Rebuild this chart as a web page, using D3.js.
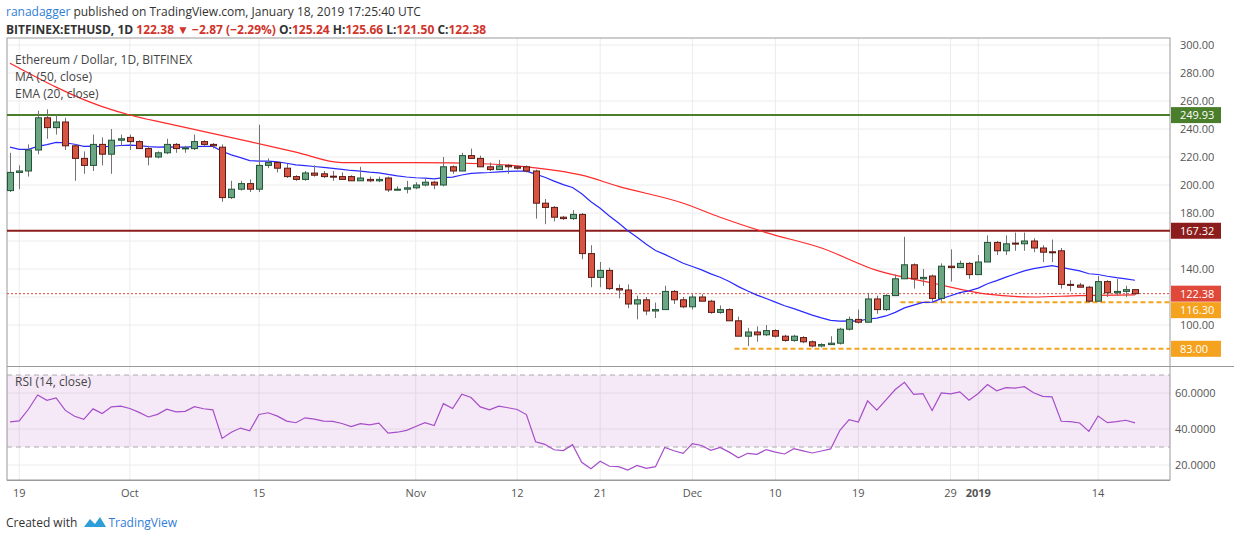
<!DOCTYPE html>
<html lang="en">
<head>
<meta charset="UTF-8">
<title>ETHUSD 1D</title>
<script src="https://d3js.org/d3.v7.min.js"></script>
<style>
  body { margin: 0; background: #fff; font-family: "Open Sans", Arial, sans-serif; }
  svg text { font-family: "Open Sans", Arial, sans-serif; }
</style>
</head>
<body>
<svg width="1234" height="541"></svg>
<script>
// daily candles, Sep 18 2018 .. Jan 18 2019
const opens  = [196,209,210,225,248,241,245,228,219,214,229,222,232,234,231,226,220,223,229,226,226,231,229,227,191,197,201,197,214,216,212,206,204,208.5,208,206.3,206,206,203,204,203,205,196.5,197,198,200,202,200,213,210,221,219,213,211,214,213,213,210,187,184,177,176,179,151,134,139,126,125,115,118,110,111,124,118,113,120,117,109,111,103,92,95,93,96,92,89,91,88,85,86,87,97,104,102,118.6,111,121,133,143,133,135,119,142,141,144,136,145,159,153,158.5,158,160,155,152.3,153,129,128.5,127,117,131,123,124,125.24];
const highs  = [223,214,229,253,254,250,248,229,224,236,234,240,236,236,232,228,224,233,230,228,236,232,230,229,203,203,204,243,219,217,215,207,210,214,210,210,209,207,213,206,206,206,199,203,202,205,203,220,214,223,226,221,216,218,215,214,214,211,190,185,178,182,180,157,145,141,129,129,121,120,116,128,125,120,122,122,118,114,112,106,98,99,100,97,93,93,92,89,87,92,98,106,111,123,121,122,136,163,144,140,136,144,154,146,145,150,164,160,164,166,166,162,157,161,155,132,130,128,135,132,133,128,125.66];
const lows   = [195,197,206,222,233,236,225,203,208,210,214,208,228,225,226,214,219,222,223,223,225,228,226,188,190,196,195,195,212,209,205,203,203,206,205,203,204,203,203,202,202,195,196,194,197,199,197,199,208,210,219,213,210,211,208,211,209,176,172,174,175,175,147,127,127,125,119,112,104,107,105,111,115,112,111,117,108,108,103,92,85,88,92,91,88,88,87,84,84,86,86,96,101,102,108,110,121,133,126,128,117,117,131,141,133,136,145,150,150,153,153,152,145,145,126,124,127,116,117,120,121,120,121.5];
const closes = [209,210,225,248,241,245,228,219,214,229,222,232,233,231,226,220,223,229,226,226.5,231,229,228,191,197,201,197,214,216,212,206,204,208.6,207,206,206,204,203,205,203,204,196.5,197,198,200,202,200,213,210,221,219,213,211,213.6,213,212,210,187,184,177,176,179,151,134,139,126,125,115,118,110,111,124,118,113,120,117,109,111,103,92,95,93,96,92,89,92,88,85,86,87,97,104,102,118.6,111,121,133,143,133,134,119,142,141,144,136,145,159,153,158,158,160,155,152,152,129,128.5,127,117,131,123,124,125.24,122.38];

// MA(50): [candle index, value]
const ma50 = [[0,287],[10,256],[13,250],[17,244],[26,231],[31,223.5],[36,216],[44,216],[52,215],[56,213],[62,207],[66,199],[73,187],[77,177],[82,166],[88,155],[94,139],[100,130],[106,122],[111,120],[116,121],[122,121.5]];
const emaSeed = 229;
const rsiSeed = { gain: 3.4, loss: 5.6 };

const priceTicks = [100,140,180,200,220,240,260,280,300];
const rsiTicks = [20,40,60];
const timeTicks = [
  [new Date(Date.UTC(2018,8,19)), "19"], [new Date(Date.UTC(2018,9,1)), "Oct"],
  [new Date(Date.UTC(2018,9,15)), "15"], [new Date(Date.UTC(2018,10,1)), "Nov"],
  [new Date(Date.UTC(2018,10,12)), "12"], [new Date(Date.UTC(2018,10,21)), "21"],
  [new Date(Date.UTC(2018,11,1)), "Dec"], [new Date(Date.UTC(2018,11,10)), "10"],
  [new Date(Date.UTC(2018,11,19)), "19"], [new Date(Date.UTC(2018,11,29)), "29"],
  [new Date(Date.UTC(2019,0,1)), "2019"], [new Date(Date.UTC(2019,0,14)), "14"]
];
const gridTicks = [100,120,140,160,180,200,220,240,260,280,300];
const levels = [
  { v: 249.93, color: "#4b7e2b", label: "249.93", kind: "solid", shift: 0 },
  { v: 167.32, color: "#8c1d1d", label: "167.32", kind: "solid", shift: 0 },
  { v: 122.38, color: "#e0483a", label: "122.38", kind: "dot", shift: 0 },
  { v: 116.30, color: "#f5a21e", label: "116.30", kind: "dash", from: 97, shift: 8 },
  { v: 83.00,  color: "#f5a21e", label: "83.00",  kind: "dash", from: 79, shift: 0 }
];

const day0 = Date.UTC(2018,8,18);
const dates = closes.map((c,i) => new Date(day0 + i*86400000));

const svg = d3.select("svg");
const left = 7, right = 1170, pTop = 38, pBot = 366, rTop = 367, rBot = 480;

const x = d3.scaleUtc().domain([dates[0], dates[dates.length-1]]).range([10, 1135]);
const y = d3.scaleLinear().domain([100,300]).range([325,45]);
const yr = d3.scaleLinear().domain([20,60]).range([465,393]);

// grid
const grid = svg.append("g").attr("stroke", "#ececec").attr("stroke-width", 1);
timeTicks.forEach(t => {
  grid.append("line").attr("x1", x(t[0])).attr("x2", x(t[0])).attr("y1", pTop).attr("y2", rBot);
});
gridTicks.forEach(p => {
  grid.append("line").attr("x1", left).attr("x2", right).attr("y1", y(p)).attr("y2", y(p));
});
rsiTicks.forEach(p => {
  grid.append("line").attr("x1", left).attr("x2", right).attr("y1", yr(p)).attr("y2", yr(p));
});

// frames
svg.append("rect").attr("x", left).attr("y", pTop).attr("width", right-left).attr("height", rBot-pTop)
  .attr("fill", "none").attr("stroke", "#9a9a9a");
svg.append("line").attr("x1", left).attr("x2", 1234).attr("y1", pBot+0.5).attr("y2", pBot+0.5).attr("stroke", "#9a9a9a");
svg.append("line").attr("x1", left).attr("x2", right).attr("y1", rBot+0.5).attr("y2", rBot+0.5).attr("stroke", "#9a9a9a");

// RSI band
svg.append("rect").attr("x", left).attr("y", yr(70)).attr("width", right-left).attr("height", yr(30)-yr(70))
  .attr("fill", "#9c27b0").attr("fill-opacity", 0.1);
[70,30].forEach(v => svg.append("line").attr("x1", left).attr("x2", right).attr("y1", yr(v)).attr("y2", yr(v))
  .attr("stroke", "#aaa").attr("stroke-dasharray", "5,4"));

// levels
levels.forEach(l => {
  const x1 = l.from !== undefined ? x(dates[l.from]) - 4 : left;
  const ln = svg.append("line").attr("x1", x1).attr("x2", right).attr("y1", y(l.v)).attr("y2", y(l.v))
    .attr("stroke", l.color);
  if (l.kind === "solid") ln.attr("stroke-width", 2);
  if (l.kind === "dot") ln.attr("stroke-width", 1).attr("stroke-dasharray", "2,2");
  if (l.kind === "dash") ln.attr("stroke-width", 2).attr("stroke-dasharray", "5,3");
});

// indicators
const ema = [];
closes.forEach((c,i) => { const prev = i ? ema[i-1] : emaSeed; ema.push(prev + (c-prev)*2/21); });
const rsi = [];
let ag = rsiSeed.gain, al = rsiSeed.loss;
closes.forEach((c,i) => {
  const ch = c - opens[i];
  ag = (ag*13 + Math.max(ch,0))/14;
  al = (al*13 + Math.max(-ch,0))/14;
  rsi.push(100 - 100/(1 + ag/al));
});

svg.append("path").datum(ma50)
  .attr("d", d3.line().x(d => x(dates[d[0]])).y(d => y(d[1])).curve(d3.curveMonotoneX))
  .attr("fill", "none").attr("stroke", "#ff2a2a").attr("stroke-width", 1.2);
svg.append("path").datum(ema)
  .attr("d", d3.line().x((d,i) => x(dates[i])).y(d => y(d)))
  .attr("fill", "none").attr("stroke", "#2a2aff").attr("stroke-width", 1.2);
svg.append("path").datum(rsi)
  .attr("d", d3.line().x((d,i) => x(dates[i])).y(d => yr(d)))
  .attr("fill", "none").attr("stroke", "#a64dc9").attr("stroke-width", 1.2);

// candles
const cg = svg.append("g");
closes.forEach((c,i) => {
  const o = opens[i], up = c >= o, cx = Math.round(x(dates[i])) + 0.5;
  cg.append("line").attr("x1", cx).attr("x2", cx).attr("y1", y(highs[i])).attr("y2", y(lows[i]))
    .attr("stroke", "#737375");
  const top = y(Math.max(o,c)), h = Math.max(1, Math.abs(y(o)-y(c)));
  cg.append("rect").attr("x", cx-3).attr("y", top).attr("width", 6).attr("height", h)
    .attr("fill", up ? "#6ba583" : "#d75442").attr("stroke", up ? "#225437" : "#5b1a13");
});

// price axis labels
const ax = svg.append("g").attr("font-size", 11).attr("fill", "#555");
priceTicks.forEach(p => ax.append("text").attr("x", 1180).attr("y", y(p)+4).text(p.toFixed(2)));
rsiTicks.forEach(p => ax.append("text").attr("x", 1175).attr("y", yr(p)+4).text(p.toFixed(4)));
levels.forEach(l => {
  const ly = y(l.v) + l.shift;
  svg.append("rect").attr("x", 1171).attr("y", ly-8).attr("width", 50).attr("height", 16).attr("fill", l.color);
  svg.append("text").attr("x", 1180).attr("y", ly+4).attr("font-size", 11).attr("fill", "#fff").text(l.label);
});

// time axis labels
timeTicks.forEach(t => svg.append("text").attr("x", x(t[0])).attr("y", 497).attr("text-anchor", "middle")
  .attr("font-size", 11).attr("fill", "#555").attr("font-weight", t[1] === "2019" ? "bold" : "normal").text(t[1]));

// header
const h1 = svg.append("text").attr("x", 6).attr("y", 16).attr("font-size", 12).attr("fill", "#333");
h1.append("tspan").attr("fill", "#2f7ed8").text("ranadagger");
h1.append("tspan").text(" published on TradingView.com, January 18, 2019 17:25:40 UTC");
const h2 = svg.append("text").attr("x", 6).attr("y", 34).attr("font-size", 12).attr("font-weight", "bold").attr("fill", "#333");
h2.append("tspan").text("BITFINEX:ETHUSD, 1D ");
h2.append("tspan").attr("fill", "#d0342c").text("122.38 ▼ −2.87 (−2.29%)");
h2.append("tspan").text(" O:");
h2.append("tspan").attr("fill", "#d0342c").text("125.24");
h2.append("tspan").text(" H:");
h2.append("tspan").attr("fill", "#d0342c").text("125.66");
h2.append("tspan").text(" L:");
h2.append("tspan").attr("fill", "#d0342c").text("121.50");
h2.append("tspan").text(" C:");
h2.append("tspan").attr("fill", "#d0342c").text("122.38");

const lg = svg.append("g").attr("font-size", 12).attr("fill", "#444");
lg.append("text").attr("x", 15).attr("y", 64).text("Ethereum / Dollar, 1D, BITFINEX");
lg.append("text").attr("x", 15).attr("y", 81).text("MA (50, close)");
lg.append("text").attr("x", 15).attr("y", 98).text("EMA (20, close)");
lg.append("text").attr("x", 15).attr("y", 386).text("RSI (14, close)");

const ft = svg.append("text").attr("x", 6).attr("y", 527).attr("font-size", 12).attr("fill", "#333");
ft.append("tspan").text("Created with ");
ft.append("tspan").attr("fill", "#2f7ed8").attr("dx", 28).text("TradingView");
svg.append("path").attr("d", "M84,527 l6,-8 l5,5 l5,-7 l6,10 z").attr("fill", "#2f9ed8");
</script>
</body>
</html>
